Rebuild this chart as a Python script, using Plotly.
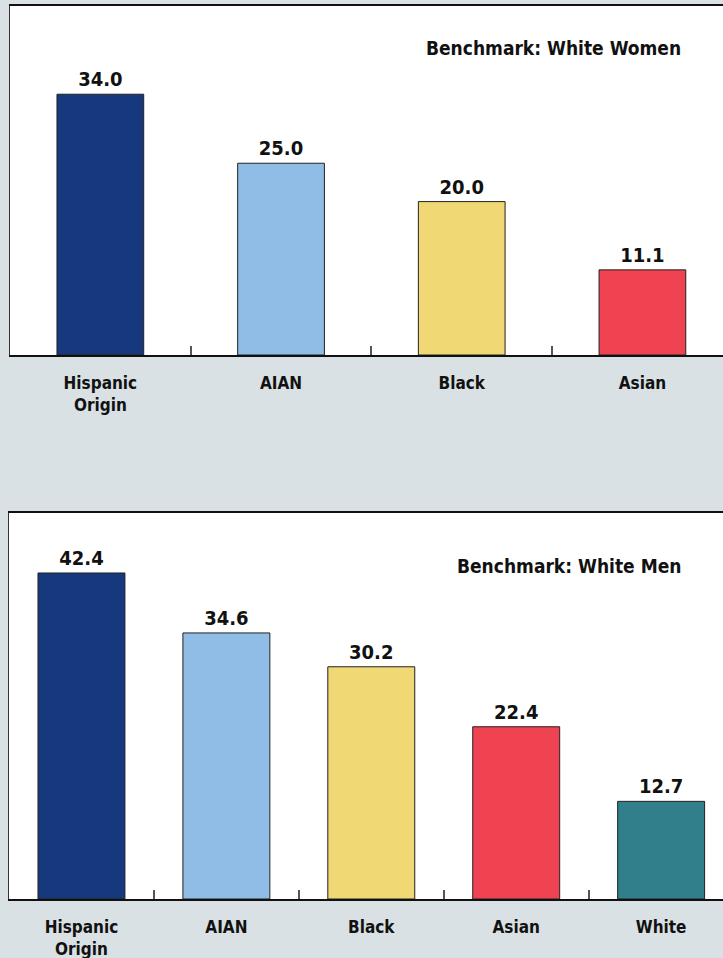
import plotly.graph_objects as go

# Data
women_categories = ["Hispanic<br>Origin", "AIAN", "Black", "Asian"]
women_values = [34.0, 25.0, 20.0, 11.1]
women_colors = ["#16397e", "#8fbde6", "#f0d874", "#f04352"]
women_benchmark = "Benchmark: White Women"

men_categories = ["Hispanic<br>Origin", "AIAN", "Black", "Asian", "White"]
men_values = [42.4, 34.6, 30.2, 22.4, 12.7]
men_colors = ["#16397e", "#8fbde6", "#f0d874", "#f04352", "#317f8a"]
men_benchmark = "Benchmark: White Men"

FONT = "DejaVu Sans Condensed, Liberation Sans Narrow, sans-serif"
W, H = 723, 958
BG = "#d9e1e4"
VAL_SIZE = 20
CAT_SIZE = 17
BENCH_SIZE = 19

fig = go.Figure()

fig.add_trace(go.Bar(
    x=women_categories, y=women_values, marker_color=women_colors,
    marker_line=dict(color="#222222", width=1), width=0.48,
    text=[f"{v:.1f}" for v in women_values], textposition="outside",
    textfont=dict(family=FONT, size=VAL_SIZE, color="#111111", weight="bold"),
    cliponaxis=False, xaxis="x", yaxis="y", showlegend=False,
))
fig.add_trace(go.Bar(
    x=men_categories, y=men_values, marker_color=men_colors,
    marker_line=dict(color="#222222", width=1), width=0.6,
    text=[f"{v:.1f}" for v in men_values], textposition="outside",
    textfont=dict(family=FONT, size=VAL_SIZE, color="#111111", weight="bold"),
    cliponaxis=False, xaxis="x2", yaxis="y2", showlegend=False,
))

def py(p):
    return 1 - p / H

common_x = dict(
    type="category", showline=True, linecolor="#111111", linewidth=1.5, mirror=True,
    ticks="inside", ticklen=9, tickcolor="#555555", tickwidth=1.5,
    tickson="boundaries", showgrid=False, zeroline=False,
    tickfont=dict(family=FONT, size=CAT_SIZE, color="#111111", weight="bold"),
)
common_y = dict(
    showline=True, linecolor="#333333", linewidth=1, showticklabels=False,
    ticks="", showgrid=False, zeroline=False,
)

fig.update_layout(
    width=W, height=H, margin=dict(l=0, r=0, t=0, b=0),
    paper_bgcolor=BG, plot_bgcolor="white",
    xaxis=dict(domain=[10 / W, 1.0], anchor="y", range=[-0.5, 3.446],
               ticklabelstandoff=12, **common_x),
    yaxis=dict(domain=[py(355), py(6)], anchor="x", range=[0, 45.5], **common_y),
    xaxis2=dict(domain=[9 / W, 1.0], anchor="y2", range=[-0.5, 4.427],
                ticklabelstandoff=12, **common_x),
    yaxis2=dict(domain=[py(899), py(513)], anchor="x2", range=[0, 50.2], **common_y),
    font=dict(family=FONT, color="#111111"),
    annotations=[
        dict(text=women_benchmark, xref="paper", yref="paper",
             x=683 / W, y=py(48), xanchor="right", yanchor="middle",
             showarrow=False,
             font=dict(family=FONT, size=BENCH_SIZE, color="#111111", weight="bold")),
        dict(text=men_benchmark, xref="paper", yref="paper",
             x=683 / W, y=py(566), xanchor="right", yanchor="middle",
             showarrow=False,
             font=dict(family=FONT, size=BENCH_SIZE, color="#111111", weight="bold")),
    ],
)

fig.write_html("out.html")
